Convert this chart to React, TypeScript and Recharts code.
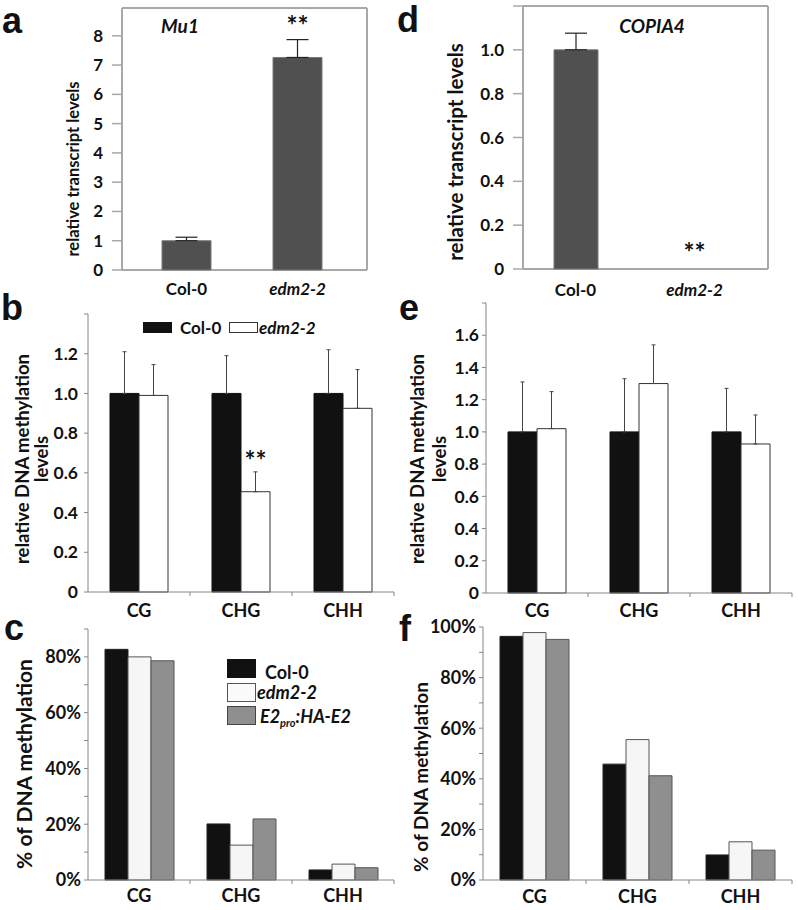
import React from 'react';
import { BarChart, Bar, XAxis, YAxis, CartesianGrid, ErrorBar, LabelList, Legend, ReferenceDot } from 'recharts';

const FONT = 'Lato, "Open Sans", sans-serif';
const LETTER_FONT = '"Liberation Sans", Arial, sans-serif';

// ---------- Panel a (Mu1 transcript) ----------
const aGroups = ['Col-0', 'edm2-2'];
const aValues = [1.0, 7.26];
const aErrors = [0.12, 0.61];
const aMarks = ['', '**'];
const aTicks = [0, 1, 2, 3, 4, 5, 6, 7, 8];

// ---------- Panel d (COPIA4 transcript) ----------
const dGroups = ['Col-0', 'edm2-2'];
const dValues = [1.0, 0];
const dErrors: (number | null)[] = [0.076, null];
const dMarks = ['', '**'];
const dTicks = [0, 0.2, 0.4, 0.6, 0.8, 1.0, 1.2];

// ---------- Panels b / e (relative DNA methylation) ----------
const contexts = ['CG', 'CHG', 'CHH'];
const bCol0 = [1.0, 1.0, 1.0];
const bCol0Err = [0.21, 0.19, 0.22];
const bEdm = [0.99, 0.505, 0.925];
const bEdmErr = [0.155, 0.1, 0.195];
const bMarks = ['', '**', ''];
const bTicks = [0, 0.2, 0.4, 0.6, 0.8, 1.0, 1.2, 1.4];

const eCol0 = [1.0, 1.0, 1.0];
const eCol0Err = [0.31, 0.33, 0.27];
const eEdm = [1.02, 1.3, 0.925];
const eEdmErr = [0.23, 0.24, 0.18];
const eTicks = [0, 0.2, 0.4, 0.6, 0.8, 1.0, 1.2, 1.4, 1.6, 1.8];

// ---------- Panels c / f (% DNA methylation) ----------
const cCol0 = [0.827, 0.201, 0.036];
const cEdm = [0.8, 0.125, 0.057];
const cE2 = [0.786, 0.219, 0.044];
const cTicks = [0, 0.1, 0.2, 0.3, 0.4, 0.5, 0.6, 0.7, 0.8, 0.9];

const fCol0 = [0.963, 0.458, 0.099];
const fEdm = [0.978, 0.555, 0.151];
const fE2 = [0.951, 0.412, 0.118];
const fTicks = [0, 0.1, 0.2, 0.3, 0.4, 0.5, 0.6, 0.7, 0.8, 0.9, 1.0];

const seriesNames = ['Col-0', 'edm2-2', 'E2pro:HA-E2'];

// ---------- tables ----------
const aData = aGroups.map((g, i) => ({ name: g, value: aValues[i], err: [0, aErrors[i]], mark: aMarks[i] }));
const dData = dGroups.map((g, i) => ({
  name: g,
  value: dValues[i],
  err: dErrors[i] == null ? null : [0, dErrors[i] as number],
  mark: dMarks[i],
}));
const bData = contexts.map((c, i) => ({
  name: c,
  col0: bCol0[i],
  col0Err: [0, bCol0Err[i]],
  edm: bEdm[i],
  edmErr: [0, bEdmErr[i]],
  mark: bMarks[i],
}));
const eData = contexts.map((c, i) => ({
  name: c,
  col0: eCol0[i],
  col0Err: [0, eCol0Err[i]],
  edm: eEdm[i],
  edmErr: [0, eEdmErr[i]],
}));
const cData = contexts.map((c, i) => ({ name: c, col0: cCol0[i], edm: cEdm[i], e2: cE2[i] }));
const fData = contexts.map((c, i) => ({ name: c, col0: fCol0[i], edm: fEdm[i], e2: fE2[i] }));

// ---------- helpers ----------
const frameH = (p: any) => (p && p.offset ? [p.offset.top, p.offset.top + p.offset.height] : []);
const frameV = (p: any) => (p && p.offset ? [p.offset.left, p.offset.left + p.offset.width] : []);

const fmtInt = (v: number) => String(v);
const fmtDec = (hide: number) => (v: number) => (Math.abs(v - hide) < 1e-9 ? '' : v === 0 ? '0' : v.toFixed(1));
const fmtPct = (v: number) => {
  const p = Math.round(v * 100);
  return p % 20 === 0 ? `${p}%` : '';
};

const makeXTick = (fontSize: number, margin: number, italic: string[], band?: number) => (props: any) => {
  const { x, y, payload } = props;
  const axisY = y - margin;
  return (
    <g>
      <text
        x={x}
        y={y}
        dy="0.8em"
        textAnchor="middle"
        fontFamily={FONT}
        fontWeight={700}
        fontSize={fontSize}
        fontStyle={italic.includes(payload.value) ? 'italic' : 'normal'}
        fill="#111"
      >
        {payload.value}
      </text>
      {band ? (
        <line x1={x + band / 2} x2={x + band / 2} y1={axisY} y2={axisY + 4} stroke="#868686" strokeWidth={1} />
      ) : null}
    </g>
  );
};

const makeMark = (lift: number, fontSize: number) => (props: any) => {
  const { x, y, width, value } = props;
  if (!value) return null;
  return (
    <text
      x={Number(x) + Number(width) / 2}
      y={Number(y) - lift}
      textAnchor="middle"
      fontFamily={FONT}
      fontWeight={700}
      fontSize={fontSize}
      fill="#111"
    >
      {value}
    </text>
  );
};

const makeDotMark = (text: string, lift: number, fontSize: number) => (props: any) => {
  const vb = props && props.viewBox ? props.viewBox : { x: 0, y: 0, width: 0, height: 0 };
  const cx = Number(vb.x) + Number(vb.width || 0) / 2;
  const cy = Number(vb.y) + Number(vb.height || 0) / 2;
  return (
    <text x={cx} y={cy - lift} textAnchor="middle" fontFamily={FONT} fontWeight={700} fontSize={fontSize} fill="#111">
      {text}
    </text>
  );
};

const yTickStyle = (fs: number) => ({ fontFamily: FONT, fontWeight: 700, fontSize: fs, fill: '#111' });

const box = (left: number, top: number, w: number, h: number): React.CSSProperties => ({
  position: 'absolute',
  left,
  top,
  width: w,
  height: h,
});

const BLACK = '#111111';
const DARK = '#505050';

function LegendB() {
  const txt: React.CSSProperties = {
    position: 'absolute',
    fontFamily: FONT,
    fontWeight: 700,
    fontSize: 17,
    color: '#111',
    lineHeight: '17px',
    whiteSpace: 'nowrap',
  };
  return (
    <div style={{ position: 'relative', width: 200, height: 14 }}>
      <div style={{ position: 'absolute', left: 0, top: 0, width: 29, height: 11, background: BLACK }} />
      <div style={{ ...txt, left: 37, top: -3 }}>{seriesNames[0]}</div>
      <div style={{ position: 'absolute', left: 86, top: 0, width: 27, height: 9, border: '1px solid #333', background: '#fff' }} />
      <div style={{ ...txt, left: 116, top: -3, fontStyle: 'italic' }}>{seriesNames[1]}</div>
    </div>
  );
}

function LegendC() {
  const txt: React.CSSProperties = {
    position: 'absolute',
    fontFamily: FONT,
    fontWeight: 700,
    fontSize: 18,
    color: '#111',
    lineHeight: '18px',
    whiteSpace: 'nowrap',
  };
  return (
    <div style={{ position: 'relative', width: 170, height: 70 }}>
      <div style={{ position: 'absolute', left: 0, top: 0, width: 29, height: 19, background: BLACK }} />
      <div style={{ ...txt, left: 38, top: 4 }}>{seriesNames[0]}</div>
      <div style={{ position: 'absolute', left: 0, top: 24, width: 27, height: 17, border: '1px solid #555', background: '#fafafa' }} />
      <div style={{ ...txt, left: 30, top: 24, fontStyle: 'italic' }}>{seriesNames[1]}</div>
      <div style={{ position: 'absolute', left: 0, top: 47, width: 27, height: 17, border: '1px solid #444', background: '#8f8f8f' }} />
      <div style={{ ...txt, left: 33, top: 48, fontStyle: 'italic' }}>
        E2<sub style={{ fontSize: 11, verticalAlign: '-4px', lineHeight: 0 }}>pro</sub>:HA-E2
      </div>
    </div>
  );
}

export default function App() {
  const axisGrey = '#868686';
  const frameGrey = '#a8a8a8';
  return (
    <div style={{ position: 'absolute', left: 0, top: 0, width: 798, height: 910, background: '#fff', overflow: 'hidden' }}>
      {/* Panel a */}
      <div style={box(0, 0, 399, 300)}>
        <BarChart width={399} height={300} data={aData} margin={{ top: 8, right: 32, bottom: 0, left: 62 }}>
          <CartesianGrid stroke={frameGrey} strokeWidth={2} horizontalCoordinatesGenerator={frameH} verticalCoordinatesGenerator={frameV} />
          <XAxis dataKey="name" type="category" padding={{ left: 9, right: 14 }} axisLine={false} tickLine={false} tickSize={0} tickMargin={11} height={30} interval={0} tick={makeXTick(17, 11, ['edm2-2'])} />
          <YAxis type="number" domain={[0, 8.95]} ticks={aTicks} interval={0} tickFormatter={fmtInt} width={60} tick={yTickStyle(17)} tickSize={10} tickMargin={9} axisLine={{ stroke: frameGrey, strokeWidth: 2 }} tickLine={{ stroke: frameGrey, strokeWidth: 1.5 }} />
          <Bar dataKey="value" barSize={49} fill={DARK} stroke="#7a7a7a" strokeWidth={1} isAnimationActive={false}>
            <ErrorBar dataKey="err" width={11} stroke="#222" strokeWidth={1.2} direction="y" />
            <LabelList dataKey="mark" content={makeMark(22, 26)} />
          </Bar>
        </BarChart>
      </div>

      {/* Panel d */}
      <div style={box(399, 0, 399, 300)}>
        <BarChart width={399} height={300} data={dData} margin={{ top: 6, right: 30, bottom: 1, left: 64 }}>
          <CartesianGrid stroke={frameGrey} strokeWidth={2} horizontalCoordinatesGenerator={frameH} verticalCoordinatesGenerator={frameV} />
          <XAxis dataKey="name" type="category" padding={{ left: -7, right: 14 }} axisLine={false} tickLine={false} tickSize={0} tickMargin={13} height={30} interval={0} tick={makeXTick(17, 13, ['edm2-2'])} />
          <YAxis type="number" domain={[0, 1.2]} ticks={dTicks} interval={0} tickFormatter={fmtDec(1.2)} width={60} tick={yTickStyle(17)} tickSize={10} tickMargin={9} axisLine={{ stroke: frameGrey, strokeWidth: 2 }} tickLine={{ stroke: frameGrey, strokeWidth: 1.5 }} />
          <Bar dataKey="value" barSize={44} fill={DARK} stroke="#7a7a7a" strokeWidth={1} isAnimationActive={false}>
            <ErrorBar dataKey="err" width={11} stroke="#222" strokeWidth={1.2} direction="y" />
          </Bar>
          <ReferenceDot x={dGroups[1]} y={dValues[1]} r={0} fill="none" stroke="none" ifOverflow="visible" label={makeDotMark(dMarks[1], 7, 26)} />
        </BarChart>
      </div>

      {/* Panel b */}
      <div style={box(0, 295, 399, 325)}>
        <BarChart width={399} height={325} data={bData} margin={{ top: 19, right: 5, bottom: 0, left: 38 }} barGap={0}>
          <XAxis dataKey="name" type="category" axisLine={{ stroke: axisGrey }} tickLine={false} tickSize={0} tickMargin={11} height={28} interval={0} tick={makeXTick(18, 11, [], 102)} />
          <YAxis type="number" domain={[0, 1.4]} ticks={bTicks} interval={0} tickFormatter={fmtDec(1.4)} width={50} tick={yTickStyle(17.5)} tickSize={4} tickMargin={6} axisLine={{ stroke: axisGrey }} tickLine={{ stroke: axisGrey }} />
          <Legend layout="horizontal" verticalAlign="middle" align="center" wrapperStyle={{ left: 143, top: 27, width: 200, height: 14 }} content={() => <LegendB />} />
          <Bar dataKey="col0" name="Col-0" barSize={29} fill={BLACK} stroke={BLACK} isAnimationActive={false}>
            <ErrorBar dataKey="col0Err" width={2} stroke="#444" strokeWidth={1} direction="y" />
          </Bar>
          <Bar dataKey="edm" name="edm2-2" barSize={29} fill="#ffffff" stroke="#333" strokeWidth={1} isAnimationActive={false}>
            <ErrorBar dataKey="edmErr" width={2} stroke="#444" strokeWidth={1} direction="y" />
            <LabelList dataKey="mark" content={makeMark(22, 26)} />
          </Bar>
        </BarChart>
      </div>

      {/* Panel e */}
      <div style={box(399, 295, 399, 325)}>
        <BarChart width={399} height={325} data={eData} margin={{ top: 8, right: 6, bottom: 0, left: 37 }} barGap={0}>
          <XAxis dataKey="name" type="category" axisLine={{ stroke: axisGrey }} tickLine={false} tickSize={0} tickMargin={10} height={27} interval={0} tick={makeXTick(18, 10, [], 102)} />
          <YAxis type="number" domain={[0, 1.8]} ticks={eTicks} interval={0} tickFormatter={fmtDec(1.8)} width={50} tick={yTickStyle(17.5)} tickSize={4} tickMargin={3} axisLine={{ stroke: axisGrey }} tickLine={{ stroke: axisGrey }} />
          <Bar dataKey="col0" name="Col-0" barSize={29} fill={BLACK} stroke={BLACK} isAnimationActive={false}>
            <ErrorBar dataKey="col0Err" width={2} stroke="#444" strokeWidth={1} direction="y" />
          </Bar>
          <Bar dataKey="edm" name="edm2-2" barSize={29} fill="#ffffff" stroke="#333" strokeWidth={1} isAnimationActive={false}>
            <ErrorBar dataKey="edmErr" width={2} stroke="#444" strokeWidth={1} direction="y" />
          </Bar>
        </BarChart>
      </div>

      {/* Panel c */}
      <div style={box(0, 610, 399, 300)}>
        <BarChart width={399} height={300} data={cData} margin={{ top: 19, right: 5, bottom: 0, left: 38 }} barGap={0}>
          <XAxis dataKey="name" type="category" axisLine={{ stroke: axisGrey }} tickLine={false} tickSize={0} tickMargin={8} height={30} interval={0} tick={makeXTick(18, 8, [], 102)} />
          <YAxis type="number" domain={[0, 0.9]} ticks={cTicks} interval={0} tickFormatter={fmtPct} width={50} tick={yTickStyle(18)} tickSize={4} tickMargin={3} axisLine={{ stroke: axisGrey }} tickLine={{ stroke: axisGrey }} />
          <Legend layout="horizontal" verticalAlign="middle" align="center" wrapperStyle={{ left: 227, top: 49, width: 170, height: 70 }} content={() => <LegendC />} />
          <Bar dataKey="col0" name="Col-0" barSize={23} fill={BLACK} stroke="#222" isAnimationActive={false} />
          <Bar dataKey="edm" name="edm2-2" barSize={23} fill="#f6f6f6" stroke="#555" isAnimationActive={false} />
          <Bar dataKey="e2" name="E2pro:HA-E2" barSize={23} fill="#8f8f8f" stroke="#555" isAnimationActive={false} />
        </BarChart>
      </div>

      {/* Panel f */}
      <div style={box(399, 610, 399, 300)}>
        <BarChart width={399} height={300} data={fData} margin={{ top: 17, right: 6, bottom: 0, left: 34 }} barGap={0}>
          <XAxis dataKey="name" type="category" axisLine={{ stroke: axisGrey }} tickLine={false} tickSize={0} tickMargin={9} height={30} interval={0} tick={makeXTick(18, 9, [], 103)} />
          <YAxis type="number" domain={[0, 1]} ticks={fTicks} interval={0} tickFormatter={fmtPct} width={50} tick={yTickStyle(18)} tickSize={4} tickMargin={3} axisLine={{ stroke: axisGrey }} tickLine={{ stroke: axisGrey }} />
          <Bar dataKey="col0" name="Col-0" barSize={23} fill={BLACK} stroke="#222" isAnimationActive={false} />
          <Bar dataKey="edm" name="edm2-2" barSize={23} fill="#f6f6f6" stroke="#555" isAnimationActive={false} />
          <Bar dataKey="e2" name="E2pro:HA-E2" barSize={23} fill="#8f8f8f" stroke="#555" isAnimationActive={false} />
        </BarChart>
      </div>

      {/* Text overlay: panel letters, axis titles, gene names */}
      <svg width={798} height={910} style={{ position: 'absolute', left: 0, top: 0, pointerEvents: 'none' }}>
        <g fontFamily={LETTER_FONT} fontWeight={700} fontSize={36} fill="#111">
          <text x={2} y={33}>a</text>
          <text x={397} y={32}>d</text>
          <text x={1} y={320}>b</text>
          <text x={399} y={320}>e</text>
          <text x={4} y={640}>c</text>
          <text x={399} y={641}>f</text>
        </g>
        <g fontFamily={FONT} fontWeight={700} fill="#111" textAnchor="middle" dominantBaseline="central">
          <text x={73} y={169} fontSize={16.5} transform="rotate(-90 73 169)">relative transcript levels</text>
          <text x={455} y={152} fontSize={20.5} transform="rotate(-90 455 152)">relative transcript levels</text>
          <text x={22} y={459} fontSize={18.5} transform="rotate(-90 22 459)">relative DNA methylation</text>
          <text x={41} y={459} fontSize={18.5} transform="rotate(-90 41 459)">levels</text>
          <text x={417} y={459} fontSize={18.5} transform="rotate(-90 417 459)">relative DNA methylation</text>
          <text x={439} y={459} fontSize={18.5} transform="rotate(-90 439 459)">levels</text>
          <text x={23} y={764} fontSize={21} transform="rotate(-90 23 764)">% of DNA methylation</text>
          <text x={420} y={777} fontSize={19} transform="rotate(-90 420 777)">% of DNA methylation</text>
          <text x={180} y={25} fontSize={19} fontStyle="italic">Mu1</text>
          <text x={652} y={25} fontSize={19} fontStyle="italic">COPIA4</text>
        </g>
      </svg>
    </div>
  );
}
